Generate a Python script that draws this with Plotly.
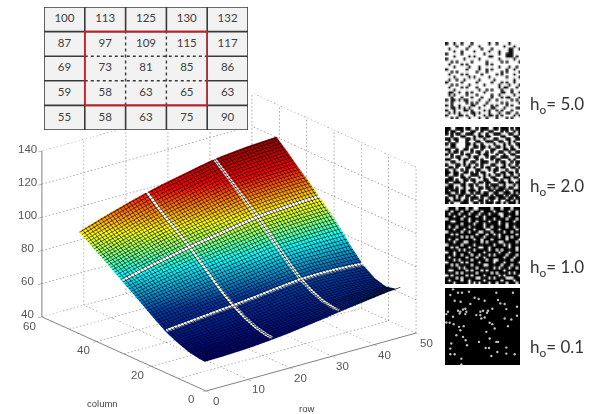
import plotly.graph_objects as go

W, H = 596, 414

# ---- table ----
table_rows = [
    [100, 113, 125, 130, 132],
    [87, 97, 109, 115, 117],
    [69, 73, 81, 85, 86],
    [59, 58, 63, 65, 63],
    [55, 58, 63, 75, 90],
]

# ---- surface values ----
row_nodes = [1, 5, 9, 13, 17, 21, 25, 29, 33, 37, 41, 45, 48]
col_nodes = [2, 4, 8, 12, 16, 20, 24, 28, 32, 36, 40, 44, 48]
surface_z = [
    [55.4, 55.6, 56.0, 56.6, 57.5, 58.6, 60.0, 61.4, 63.0, 64.4, 65.8, 67.2, 68.0],
    [55.7, 55.9, 56.3, 57.0, 57.8, 58.8, 60.0, 61.4, 62.8, 63.8, 64.4, 64.8, 65.0],
    [57.0, 57.4, 57.9, 58.6, 59.5, 60.6, 61.8, 63.0, 64.0, 64.4, 64.4, 64.0, 63.5],
    [59.5, 60.1, 60.8, 61.6, 62.5, 63.6, 64.8, 66.0, 67.0, 67.2, 66.9, 66.2, 65.5],
    [62.6, 63.6, 64.6, 65.6, 66.5, 67.6, 68.8, 70.0, 71.0, 71.3, 71.1, 70.6, 70.0],
    [67.0, 68.2, 69.4, 70.5, 71.5, 72.8, 74.2, 75.6, 77.0, 77.4, 77.4, 77.2, 77.0],
    [71.8, 73.3, 74.7, 76.2, 77.5, 78.9, 80.4, 82.0, 83.5, 84.2, 84.7, 84.9, 85.0],
    [76.6, 78.6, 80.5, 82.3, 84.0, 85.6, 87.2, 88.9, 90.5, 91.3, 92.0, 92.4, 92.5],
    [81.2, 83.6, 85.9, 88.0, 90.0, 91.8, 93.4, 95.2, 96.8, 97.7, 98.3, 98.8, 99.0],
    [86.0, 88.6, 91.0, 93.3, 95.5, 97.4, 99.2, 101.2, 103.0, 104.0, 104.8, 105.3, 105.5],
    [90.5, 93.2, 95.8, 98.3, 100.5, 102.7, 104.9, 107.0, 109.0, 110.0, 110.8, 111.3, 111.5],
    [95.0, 97.8, 100.6, 103.4, 106.0, 108.3, 110.6, 112.9, 115.0, 116.0, 116.9, 117.6, 118.0],
    [99.7, 103.0, 106.2, 109.2, 112.0, 114.4, 116.6, 118.8, 120.8, 122.0, 123.0, 123.6, 124.0],
]
white_rows = [17, 33]
white_cols = [16, 32]

row_ticks = [0, 10, 20, 30, 40, 50]
col_ticks = [0, 20, 40, 60]
col_grid = [0, 10, 20, 30, 40, 50, 60]
z_ticks = [40, 60, 80, 100, 120, 140]

# ---- binary images ----
panel_50 = [
    "#..#..#...#......#..#....#....",
    "....#....#...#.........#...#..",
    ".#......#.....#...#......##..#",
    "...#..#....#.....#...#...##...",
    "#.....#........#.....#..###...",
    "...#.....#.#.....##.....###.#.",
    "#......#.....#.......#.....#..",
    "..#.#.....#.....#.....#.#....#",
    ".#....#.#.......#.#...........",
    "...#.....#...#.......#...#..#.",
    "#.......#....#..#.#.....#..#..",
    "..#.#.......#...#.....#.#....#",
    ".#....#.#.....#.....#.#....#..",
    "...#.....#.#.....#......#....#",
    ".#..#..#.....#.....#.......#..",
    "#.....#.....#.....#...#.#..#..",
    "..#.#....#.....#.....#...#...#",
    ".#....#.#...#........#.##...#.",
    "...#.........#..#.#...#...#...",
    ".##..#..#.#....#......##..#..#",
    ".#.#....#...#.....#..#.....#..",
    "..#...#...#...#...#...#.##...#",
    "#.##.#.##....#...#..#.....#.#.",
    "..#.....#.#.#...#.....#.#....#",
    "#.#..#....##...#..#.#...#.#...",
    "..##.#.#.#...#....##...#....##",
    "#..#...##.#....#.#..#.#...#...",
    ".#.#.#....##.#...#...#..##..#.",
    "#....##.#..#...#.##.#.#....#.#",
    "..#.#....#...#..#...#...#.#...",
]
panel_20 = [
    "##..###.##..#.###..##.###.#.##",
    "#.##..#...##..#..##...#.#..#.#",
    "#.#.##..###..#..#..###...##..#",
    "..#...##...#.##.##....##...##.",
    "##.##...##.#...#...##...##..##",
    ".#..#...#...##..###..##..#.#..",
    "#.##....##.#..#....#...#.#..##",
    "..##....#..##.##.#..##.#..#..#",
    "##..#..##.#...#...##...##.##..",
    ".#.##.#...#.##..#.#..##..#..##",
    "#.#...#.##...#.##...#..#..##..",
    "..#.##...#.##...#.##..###...##",
    "##...#.##...#.#...#.##...#.#..",
    "..##...#..##..###...#.##..#.##",
    "#...##.#.#..#.#...##...#.#..#.",
    ".##.#...##.#..#.##..#.##..##.#",
    "#..#..#.#...##...#.##...#...#.",
    "##.##..##.#.#.##...#..##.##.#.",
    "#..##.#...###..#.#..##.#..#..#",
    ".##...##.#...#.#..##...###.##.",
    "###.#..##.##...##..##.#..#...#",
    "#..###.#...#.##.##...###.##.##",
    ".##...##.##.#...#.###..#...#.#",
    "###.#..#..#..##.##.#.###.##..#",
    "#.###.##.###.#...##.###.#..###",
    "##..#.##..#.##.##..##..###.#.#",
    ".###.##.##.#..###.#.###.#.###.",
    "#..#.#..#.###.#..###.###.##.##",
    "##.###.##.#..##.#.#..#..##.#.#",
    "#.#...###..##.#.###.##.#.###.#",
]
panel_10 = [
    "#...#...#..##.....#...#...#...",
    "..#...#...#...#....#.....#..#.",
    ".#...#...#...#...#...##.....#.",
    "...#...#....#..#......#..#....",
    "#.....#..#.....#...#....#...#.",
    "..##.....#..#....#...#.....#..",
    "......#....#...#.....#..#.....",
    ".#..#....#.....#..#.....#..#..",
    "...#...#...#....##...#......#.",
    "#.....#..#...##...#....#..#...",
    "..#.#.......#...#..#.#......#.",
    "......#.#.#....#.....#..#.#...",
    ".#..#......#..#...#.....#....#",
    "...#...##.....#.#....##.....#.",
    "#.....#....#.......#...#.#....",
    "..#.#....#...##..#.......#..#.",
    ".....#.#...#.....#..#.#.....#.",
    "#..#.....#.....#.....#...#....",
    "...#..#...#..#...#.#....#...#.",
    ".#......#...#..#.......#...#..",
    "...#.#....#.....#..##.....#...",
    "#.....#.#....#.....#...#.....#",
    "..#.#.....#....##.....#...#...",
    ".....#.#....#......#.#...#..#.",
    ".##.....#.#...#.#......#......",
    "....#.#.....#.....#.#....#.#..",
    "#.#.....#.#....#.....#.#.....#",
    "....#.#.....##...#.#....###...",
    ".#....#..#.....#......#....#..",
    "...#.....#.#.#...#..#...#...#.",
]
dots_01_x = [30, 22, 45, 57, 78, 160, 210, 95, 107, 35, 53, 125, 165, 172, 185, 82, 190, 222, 15, 10,
             45, 52, 60, 67, 70, 67, 50, 100, 112, 112, 120, 135, 148, 132, 125, 115, 222, 185, 205, 30,
             10, 20, 32, 48, 62, 52, 5, 140, 148, 155, 130, 195, 40, 60, 68, 72, 108, 140, 165, 160,
             25, 22, 128, 138, 190, 163, 190, 22, 35, 145, 215, 55, 55]
dots_01_y = [8, 25, 18, 18, 15, 18, 18, 33, 37, 42, 45, 42, 40, 50, 52, 52, 67, 60, 75, 82,
             72, 75, 68, 66, 75, 82, 80, 85, 75, 85, 72, 72, 66, 78, 92, 95, 87, 95, 98, 90,
             107, 108, 112, 120, 118, 130, 117, 108, 112, 125, 135, 118, 145, 150, 160, 175, 165, 155, 165, 165,
             170, 185, 183, 183, 182, 195, 200, 202, 202, 207, 202, 215, 232]

panel_labels = ["5.0", "2.0", "1.0", "0.1"]


def px_x(a, b):
    return [a / W, b / W]


def px_y(top, bottom):
    return [1 - bottom / H, 1 - top / H]


# where the view puts a scene point on the page (used for the wall clip and the tick text)
def screen(x, y, z):
    return 205 + 4.2 * x - 2.7 * y, 390 - 1.16 * x - 1.217 * y - 1.65 * (z - 40)


fig = go.Figure()
TEXT = "#404040"

# ---------- table ----------
vx, vy, hx, hy = [], [], [], []
dx_, dy_ = [], []
for i in range(6):
    if i in (0, 1, 4, 5):
        vx += [i, i, None]; vy += [0, 5, None]
        hx += [0, 5, None]; hy += [i, i, None]
    else:
        vx += [i, i, None, i, i, None]; vy += [0, 1, None, 4, 5, None]
        hx += [0, 1, None, 4, 5, None]; hy += [i, i, None, i, i, None]
        dx_ += [i, i, None, 1, 4, None]; dy_ += [1, 4, None, i, i, None]

fig.add_trace(go.Scatter(x=vx + hx, y=vy + hy, mode="lines", line=dict(color="#3a3a3a", width=1.6),
                         hoverinfo="skip", showlegend=False))
fig.add_trace(go.Scatter(x=dx_, y=dy_, mode="lines", line=dict(color="#3a3a3a", width=1.4, dash="3px,3px"),
                         hoverinfo="skip", showlegend=False))
fig.add_trace(go.Scatter(x=[1, 4, 4, 1, 1], y=[1, 1, 4, 4, 1], mode="lines", line=dict(color="#c8202a", width=1.6),
                         hoverinfo="skip", showlegend=False))
tx, ty, tt = [], [], []
for r, row in enumerate(table_rows):
    for c, v in enumerate(row):
        tx.append(c + 0.5); ty.append(4.5 - r); tt.append(str(v))
fig.add_trace(go.Scatter(x=tx, y=ty, text=tt, mode="text", textposition="middle center",
                         textfont=dict(family="Lato, Open Sans", size=11.5, color=TEXT),
                         hoverinfo="skip", showlegend=False))
fig.update_layout(
    xaxis=dict(domain=px_x(44, 248), range=[0, 5], visible=False, fixedrange=True),
    yaxis=dict(domain=px_y(7, 130), range=[0, 5], visible=False, fixedrange=True),
)

# ---------- surface ----------
fig.add_trace(go.Surface(
    x=row_nodes, y=col_nodes, z=surface_z, colorscale="Jet", cmin=55, cmax=127, showscale=False,
    lighting=dict(ambient=1, diffuse=0, specular=0, roughness=1, fresnel=0),
    contours=dict(
        x=dict(show=True, start=1, end=48, size=0.75, color="#000000", width=1, highlight=False),
        y=dict(show=True, start=2, end=48, size=0.75, color="#000000", width=1, highlight=False),
        z=dict(highlight=False),
    ),
    hoverinfo="skip",
))

# white cell boundaries follow the surface values
wx, wy, wz = [], [], []
for r in white_rows:
    j = row_nodes.index(r)
    for i, c in enumerate(col_nodes):
        wx.append(r); wy.append(c); wz.append(surface_z[i][j] + 1.2)
    wx.append(None); wy.append(None); wz.append(None)
for c in white_cols:
    i = col_nodes.index(c)
    for j, r in enumerate(row_nodes):
        wx.append(r); wy.append(c); wz.append(surface_z[i][j] + 1.2)
    wx.append(None); wy.append(None); wz.append(None)
fig.add_trace(go.Scatter3d(x=wx, y=wy, z=wz, mode="lines", line=dict(color="white", width=6),
                           hoverinfo="skip", showlegend=False))

# dotted walls, stopping where the table covers them
XMAX, YMAX, ZMIN, ZMAX = row_ticks[-1], col_grid[-1], z_ticks[0], z_ticks[-1]
TABLE_BOTTOM = 131


def wall_top(x):
    return min(ZMAX, ZMIN + (screen(x, YMAX, ZMIN)[1] - TABLE_BOTTOM) / 1.65)


gx, gy, gz = [], [], []


def seg(a, b):
    pa, pb = screen(*a), screen(*b)
    length = ((pa[0] - pb[0]) ** 2 + (pa[1] - pb[1]) ** 2) ** 0.5
    n = max(1, int(length / 3.6))
    for k in range(n):
        t0, t1 = k / n, (k + 0.45) / n
        for t in (t0, t1):
            gx.append(a[0] + (b[0] - a[0]) * t)
            gy.append(a[1] + (b[1] - a[1]) * t)
            gz.append(a[2] + (b[2] - a[2]) * t)
        gx.append(None); gy.append(None); gz.append(None)


for x in row_ticks:
    seg((x, 0, ZMIN), (x, YMAX, ZMIN))
    seg((x, YMAX, ZMIN), (x, YMAX, wall_top(x)))
for y in col_grid:
    seg((0, y, ZMIN), (XMAX, y, ZMIN))
    seg((XMAX, y, ZMIN), (XMAX, y, ZMAX))
for z in z_ticks:
    seg((XMAX, 0, z), (XMAX, YMAX, z))
    xe = min(XMAX, (390 - 1.217 * YMAX - 1.65 * (z - ZMIN) - TABLE_BOTTOM) / 1.16)
    if xe > 0:
        seg((0, YMAX, z), (xe, YMAX, z))
fig.add_trace(go.Scatter3d(x=gx, y=gy, z=gz, mode="lines", line=dict(color="#808080", width=1.2),
                           hoverinfo="skip", showlegend=False))


def axis3d(rng, ticks):
    return dict(range=rng, tickvals=ticks, showticklabels=False, showgrid=False, zeroline=False,
                showbackground=False, showline=True, linecolor="#808080", linewidth=2,
                ticks="inside", ticklen=5, tickcolor="#808080", title=dict(text=""),
                showspikes=False)


scale = 1.2
zoom = 1.55
fig.update_layout(scene=dict(
    domain=dict(x=px_x(0, 458), y=px_y(70, 414)),
    xaxis=axis3d([0, 50], row_ticks),
    yaxis=axis3d([0, 60], col_ticks),
    zaxis=axis3d([40, 140], z_ticks),
    aspectmode="manual",
    aspectratio=dict(x=zoom, y=zoom, z=0.665 * zoom),
    bgcolor="rgba(0,0,0,0)",
    camera=dict(projection=dict(type="orthographic"), up=dict(x=0, y=0, z=1),
                center=dict(x=0, y=0, z=0),
                eye=dict(x=-0.576 * scale, y=-0.737 * scale, z=0.353 * scale)),
))

# ---------- images ----------
panels = [(panel_50, 42, 119, [[0, "#ffffff"], [1, "#111111"]]),
          (panel_20, 127, 204, [[0, "#ffffff"], [0.5, "#555555"], [1, "#000000"]]),
          (panel_10, 207, 284, [[0, "#000000"], [1, "#ffffff"]])]
axis_no = 2
for rows, top, bot, cs in panels:
    z = [[1 if ch == "#" else 0 for ch in r] for r in rows]
    fig.add_trace(go.Heatmap(z=z, colorscale=cs, zmin=0, zmax=1, showscale=False, zsmooth="best",
                             xaxis=f"x{axis_no}", yaxis=f"y{axis_no}", hoverinfo="skip"))
    fig.layout[f"xaxis{axis_no}"] = dict(domain=px_x(445, 520), visible=False, anchor=f"y{axis_no}", fixedrange=True,
                                         range=[-0.5, 29.5])
    fig.layout[f"yaxis{axis_no}"] = dict(domain=px_y(top, bot), visible=False, anchor=f"x{axis_no}", fixedrange=True,
                                         range=[29.5, -0.5])
    axis_no += 1

fig.add_trace(go.Heatmap(z=[[0, 0], [0, 0]], x=[0, 234], y=[0, 240], colorscale=[[0, "#000000"], [1, "#000000"]],
                         showscale=False, xaxis="x5", yaxis="y5", hoverinfo="skip"))
fig.add_trace(go.Scatter(x=dots_01_x, y=dots_01_y, mode="markers", xaxis="x5", yaxis="y5", cliponaxis=False,
                         marker=dict(color="#c0c0c0", size=2.4, line=dict(width=0)),
                         hoverinfo="skip", showlegend=False))
fig.layout["xaxis5"] = dict(domain=px_x(445, 520), visible=False, anchor="y5", fixedrange=True, range=[6, 231])
fig.layout["yaxis5"] = dict(domain=px_y(288, 365), visible=False, anchor="x5", fixedrange=True, range=[234, 4])

# ---------- annotations ----------
anns = []
for lab, yc in zip(panel_labels, [105, 187, 268, 348]):
    anns.append(dict(x=528 / W, y=1 - yc / H, xref="paper", yref="paper", xanchor="left", yanchor="middle",
                     text=f"h<sub>o</sub>= {lab}", showarrow=False,
                     font=dict(family="Lato, Open Sans", size=17, color="#333333")))
for lab, xc, yc in [("column", 102, 403), ("row", 306, 408)]:
    anns.append(dict(x=xc / W, y=1 - yc / H, xref="paper", yref="paper", xanchor="center", yanchor="middle",
                     text=lab, showarrow=False, font=dict(family="Liberation Sans", size=9.5, color="#444444")))


def tick_text(value, px, py):
    anns.append(dict(x=px / W, y=1 - py / H, xref="paper", yref="paper", xanchor="center", yanchor="middle",
                     text=str(value), showarrow=False, font=dict(family="Liberation Sans", size=11.5, color="#555555")))


for t in row_ticks:
    sx, sy = screen(t, 0, ZMIN)
    tick_text(t, sx + 11, sy + 11)
for t in col_ticks:
    sx, sy = screen(0, t, ZMIN)
    tick_text(t, sx - 14, sy + 9)
for t in z_ticks:
    sx, sy = screen(0, YMAX, t)
    tick_text(t, sx - 16, sy - 3)

fig.update_layout(width=W, height=H, margin=dict(l=0, r=0, t=0, b=0), paper_bgcolor="white",
                  plot_bgcolor="#f2f2f2", showlegend=False, annotations=anns)

fig.write_html("out.html", config={"displayModeBar": False}, post_script="document.body.style.margin='0';")
